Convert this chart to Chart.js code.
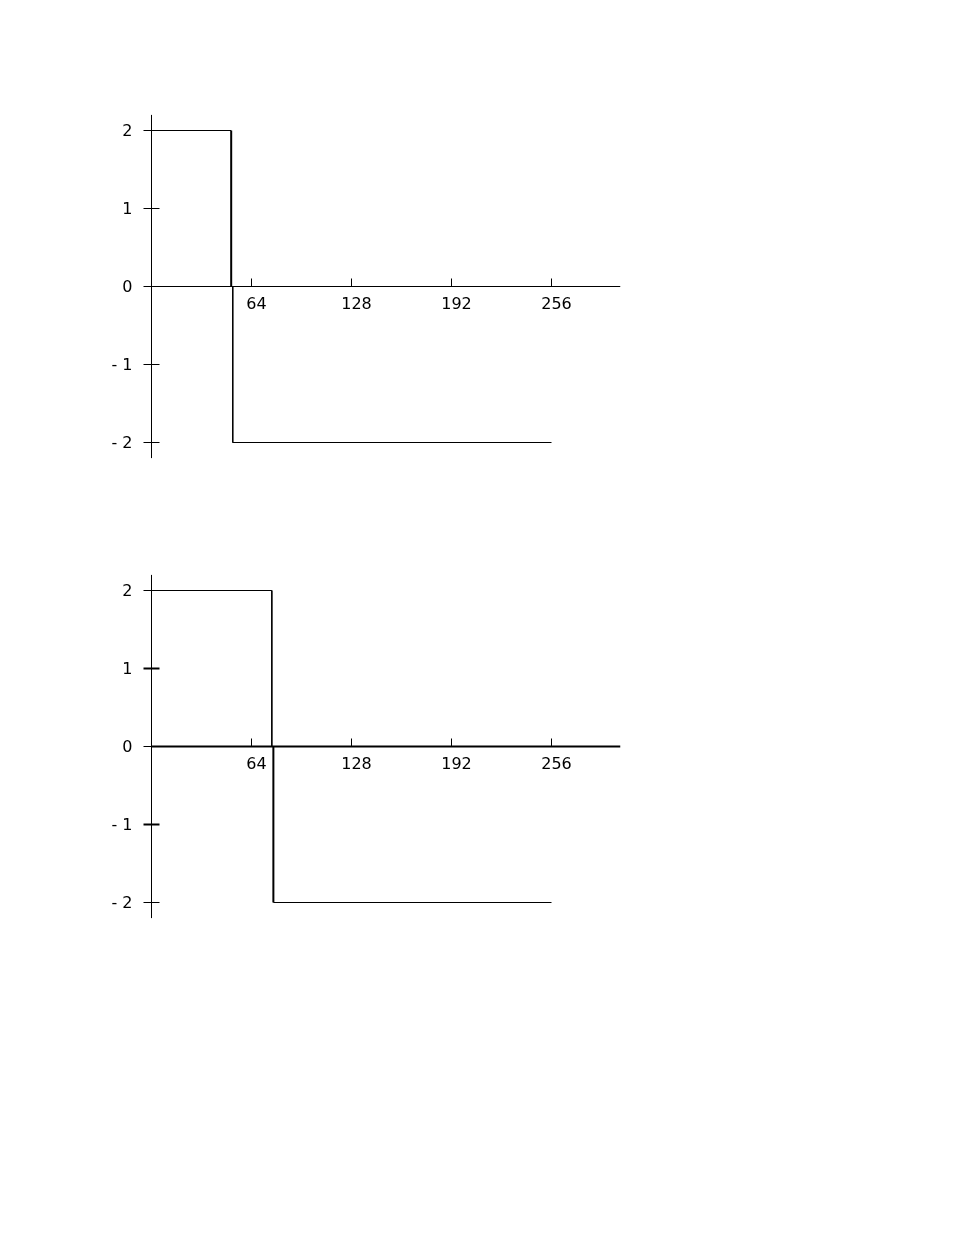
<!DOCTYPE html>
<html>
<head>
<meta charset="utf-8">
<script src="https://cdn.jsdelivr.net/npm/chart.js@4.4.1/dist/chart.umd.min.js"></script>
<style>
  html, body { margin: 0; padding: 0; background: #fff; }
  .plot { position: absolute; left: 0; width: 954px; height: 500px; }
</style>
</head>
<body>
<canvas id="chartTop" class="plot" style="top:0px"></canvas>
<canvas id="chartBottom" class="plot" style="top:460px"></canvas>
<script>
// Datos
const xTicks = [64, 128, 192, 256];
const xTickLabels = ['64', '128', '192', '256'];
const yTicks = [-2, -1, 0, 1, 2];
const yTickLabels = ['- 2', '- 1', '0', '1', '2'];

// Grafico superior: escalon en n = 51 / 52
const topX = [0, 51, 51, 52, 52, 256];
const topY = [2, 2, 0, 0, -2, -2];
const topBoldSegments = [1];      // tramo vertical 2 -> 0
const topBoldYTicks = [];

// Grafico inferior: escalon en n = 77 / 78
const bottomX = [0, 77, 77, 78, 78, 256];
const bottomY = [2, 2, 0, 0, -2, -2];
const bottomBoldSegments = [3];   // tramo vertical 0 -> -2
const bottomBoldYTicks = [-1, 1];

const X_MAX = 300;
const Y_LIM = 2.2;

// Plugin que dibuja los ejes cruzados en el origen
const crossAxes = {
  id: 'crossAxes',
  afterDatasetsDraw(chart, args, opts) {
    const { ctx, scales: { x, y } } = chart;
    const x0 = x.getPixelForValue(0);
    const y0 = y.getPixelForValue(0);
    ctx.save();
    ctx.strokeStyle = '#000';
    ctx.fillStyle = '#000';

    // eje Y
    ctx.lineWidth = 1;
    ctx.beginPath();
    ctx.moveTo(x0, y.getPixelForValue(Y_LIM));
    ctx.lineTo(x0, y.getPixelForValue(-Y_LIM));
    ctx.stroke();

    // eje X
    ctx.lineWidth = opts.boldXAxis ? 2 : 1;
    ctx.beginPath();
    ctx.moveTo(x0, y0);
    ctx.lineTo(x.getPixelForValue(X_MAX), y0);
    ctx.stroke();

    ctx.font = '16px "DejaVu Sans", sans-serif';

    // marcas y etiquetas del eje X
    ctx.lineWidth = 1;
    ctx.textAlign = 'center';
    ctx.textBaseline = 'top';
    xTicks.forEach((v, i) => {
      const px = x.getPixelForValue(v);
      ctx.beginPath();
      ctx.moveTo(px, y0 - 8);
      ctx.lineTo(px, y0);
      ctx.stroke();
      ctx.fillText(xTickLabels[i], px + 5, y0 + 10);
    });

    // marcas y etiquetas del eje Y
    ctx.textAlign = 'right';
    ctx.textBaseline = 'middle';
    yTicks.forEach((v, i) => {
      const py = y.getPixelForValue(v);
      ctx.lineWidth = opts.boldYTicks.includes(v) ? 2 : 1;
      ctx.beginPath();
      ctx.moveTo(x0 - 8, py);
      ctx.lineTo(x0 + 8, py);
      ctx.stroke();
      ctx.fillText(yTickLabels[i], x0 - 19, py + 1);
    });
    ctx.restore();
  }
};

function makeChart(canvasId, xs, ys, boldSegments, boldYTicks, boldXAxis) {
  const ctx = document.getElementById(canvasId).getContext('2d');
  return new Chart(ctx, {
    type: 'line',
    data: {
      datasets: [{
        data: xs.map((v, i) => ({ x: v, y: ys[i] })),
        borderColor: '#000',
        borderWidth: 1,
        pointRadius: 0,
        fill: false,
        tension: 0,
        clip: false,
        segment: {
          borderWidth: c => boldSegments.includes(c.p0DataIndex) ? 2 : 1
        }
      }]
    },
    options: {
      responsive: false,
      animation: false,
      events: [],
      layout: {
        padding: { left: 151.5, right: 333.75, top: 114.9, bottom: 41.9 }
      },
      plugins: {
        legend: { display: false },
        tooltip: { enabled: false },
        crossAxes: { boldYTicks: boldYTicks, boldXAxis: boldXAxis }
      },
      scales: {
        x: { type: 'linear', min: 0, max: X_MAX, display: false },
        y: { type: 'linear', min: -Y_LIM, max: Y_LIM, display: false }
      }
    },
    plugins: [crossAxes]
  });
}

document.querySelectorAll('canvas').forEach(c => { c.width = 954; c.height = 500; });
makeChart('chartTop', topX, topY, topBoldSegments, topBoldYTicks, false);
makeChart('chartBottom', bottomX, bottomY, bottomBoldSegments, bottomBoldYTicks, true);
</script>
</body>
</html>
